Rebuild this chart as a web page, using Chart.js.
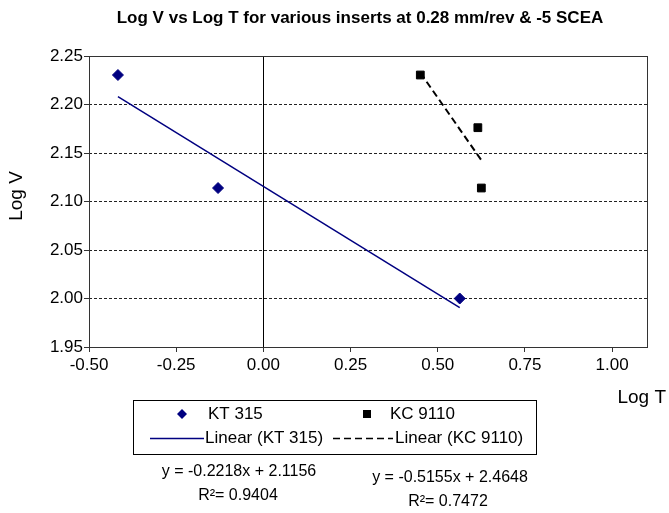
<!DOCTYPE html>
<html><head><meta charset="utf-8">
<script src="https://cdn.jsdelivr.net/npm/chart.js@4.4.1/dist/chart.umd.min.js"></script>
<style>html,body{margin:0;padding:0;background:#fff;}#wrap{width:669px;height:513px;position:relative;}</style>
</head><body><div id="wrap"><canvas id="c" width="669" height="513"></canvas></div>
<script>
const titleText = "Log V vs Log T for various inserts at 0.28 mm/rev & -5 SCEA";
const xTitle = "Log T";
const yTitle = "Log V";
const xTicks = [-0.50, -0.25, 0.00, 0.25, 0.50, 0.75, 1.00];
const yTicks = [1.95, 2.00, 2.05, 2.10, 2.15, 2.20, 2.25];
const ktLabel = "KT 315";
const kcLabel = "KC 9110";
const ktX = [-0.417, -0.130, 0.563];
const ktY = [2.2304, 2.1139, 2.0000];
const kcX = [0.450, 0.615, 0.625];
const kcY = [2.2304, 2.1761, 2.1139];
const ktTrendX = [-0.417, 0.563];
const ktTrendY = [2.2081, 1.9907];
const kcTrendX = [0.450, 0.625];
const kcTrendY = [2.2328, 2.1426];
const ktEq = ["y = -0.2218x + 2.1156", "R\u00b2= 0.9404"];
const kcEq = ["y = -0.5155x + 2.4648", "R\u00b2= 0.7472"];

const FONT = "'Liberation Sans', Arial, sans-serif";
const NAVY = '#000080';
const pts = (xs, ys) => xs.map((x, i) => ({x: x, y: ys[i]}));
const near = (a, b) => Math.abs(a - b) < 1e-6;

const decor = {
  id: 'decor',
  beforeDatasetsDraw(chart) {
    const {ctx, chartArea: a} = chart;
    ctx.save();
    ctx.strokeStyle = '#333';
    ctx.lineWidth = 1;
    ctx.strokeRect(Math.round(a.left) + 0.5, Math.round(a.top) + 0.5, Math.round(a.right - a.left), Math.round(a.bottom - a.top));
    ctx.restore();
  },
  afterDraw(chart) {
    const ctx = chart.ctx;
    ctx.save();
    ctx.fillStyle = '#000';
    // title
    ctx.font = "bold 17px " + FONT;
    ctx.textAlign = 'center'; ctx.textBaseline = 'middle';
    ctx.fillText(titleText, 360, 18);
    // axis titles
    ctx.font = "19px " + FONT;
    ctx.textAlign = 'right';
    ctx.fillText(xTitle, 666, 398);
    ctx.save();
    ctx.translate(17, 196);
    ctx.rotate(-Math.PI / 2);
    ctx.textAlign = 'center';
    ctx.fillText(yTitle, 0, 0);
    ctx.restore();
    // legend box
    ctx.strokeStyle = '#000'; ctx.lineWidth = 1;
    ctx.strokeRect(133.5, 400.5, 403, 54);
    ctx.font = "17px " + FONT;
    ctx.textAlign = 'left';
    // row 1
    ctx.fillStyle = NAVY;
    ctx.beginPath();
    ctx.moveTo(182, 409); ctx.lineTo(187, 414); ctx.lineTo(182, 419); ctx.lineTo(177, 414); ctx.closePath(); ctx.fill();
    ctx.fillStyle = '#000';
    ctx.fillText(ktLabel, 208, 414);
    ctx.fillRect(363, 410, 8, 8);
    ctx.fillText(kcLabel, 390, 414);
    // row 2
    ctx.strokeStyle = NAVY; ctx.lineWidth = 1.5;
    ctx.beginPath(); ctx.moveTo(150, 438.5); ctx.lineTo(204, 438.5); ctx.stroke();
    ctx.fillText("Linear (" + ktLabel + ")", 205, 438);
    ctx.strokeStyle = '#000'; ctx.setLineDash([7, 4]);
    ctx.beginPath(); ctx.moveTo(333, 438.5); ctx.lineTo(393, 438.5); ctx.stroke();
    ctx.setLineDash([]);
    ctx.fillText("Linear (" + kcLabel + ")", 395, 438);
    // equations
    ctx.font = "16px " + FONT;
    ctx.textAlign = 'center';
    ctx.fillText(ktEq[0], 239, 472);
    ctx.fillText(ktEq[1], 238, 496);
    ctx.fillText(kcEq[0], 450, 478);
    ctx.fillText(kcEq[1], 448, 502);
    ctx.restore();
  }
};

new Chart(document.getElementById('c'), {
  type: 'scatter',
  data: {
    datasets: [
      {label: 'Linear (' + ktLabel + ')', data: pts(ktTrendX, ktTrendY), showLine: true, borderColor: NAVY, borderWidth: 1.5, pointRadius: 0, fill: false},
      {label: 'Linear (' + kcLabel + ')', data: pts(kcTrendX, kcTrendY), showLine: true, borderColor: '#000', borderWidth: 2, borderDash: [7, 4], pointRadius: 0, fill: false},
      {label: ktLabel, data: pts(ktX, ktY), pointStyle: 'rectRot', pointRadius: 5.5, backgroundColor: NAVY, borderColor: NAVY, borderWidth: 1},
      {label: kcLabel, data: pts(kcX, kcY), pointStyle: 'rect', pointRadius: 5.5, backgroundColor: '#000', borderColor: '#000', borderWidth: 1}
    ]
  },
  options: {
    responsive: false, devicePixelRatio: 1, animation: false,
    layout: {padding: {top: 56, right: 22, left: 0, bottom: 0}},
    plugins: {legend: {display: false}, title: {display: false}, tooltip: {enabled: false}},
    scales: {
      x: {
        type: 'linear', min: -0.5, max: 1.1,
        afterBuildTicks: s => { s.ticks = xTicks.map(v => ({value: v})); },
        afterFit: s => { s.height = 166; },
        ticks: {callback: v => v.toFixed(2), font: {size: 17, family: FONT}, color: '#000', padding: 3, maxRotation: 0, autoSkip: false},
        grid: {color: c => (c.tick && near(c.tick.value, 0)) ? '#000' : 'rgba(0,0,0,0)', tickColor: '#333', tickLength: 5, lineWidth: 1},
        border: {display: false}
      },
      y: {
        type: 'linear', min: 1.95, max: 2.25,
        afterBuildTicks: s => { s.ticks = yTicks.map(v => ({value: v})); },
        afterFit: s => { s.width = 89; },
        ticks: {callback: v => v.toFixed(2), font: {size: 17, family: FONT}, color: '#000', padding: 1, autoSkip: false},
        grid: {color: c => (c.tick && (near(c.tick.value, 1.95) || near(c.tick.value, 2.25))) ? 'rgba(0,0,0,0)' : '#222', tickColor: '#333', tickLength: 5, lineWidth: 1, tickBorderDash: []},
        border: {display: false, dash: [3, 2]}
      }
    }
  },
  plugins: [decor]
});
</script></body></html>
